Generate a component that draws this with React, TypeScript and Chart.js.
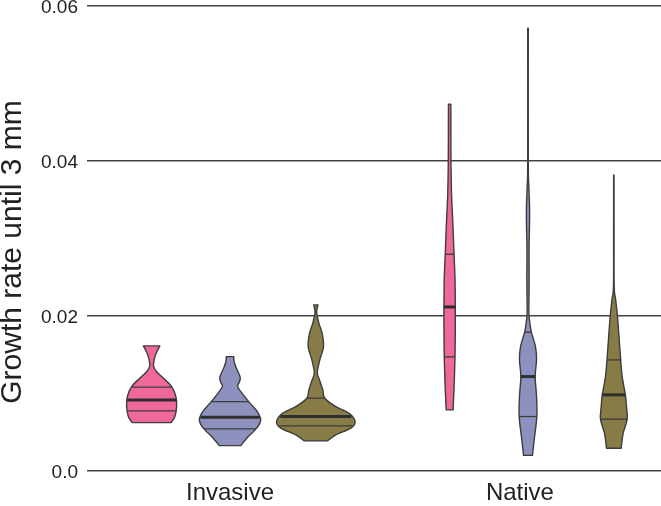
import React, { useEffect, useRef } from 'react';
import { Chart, registerables } from 'chart.js';

Chart.register(...registerables);

// ---------- data ----------
const categories = ['Invasive', 'Native'];
const yTickValues = [0, 0.02, 0.04, 0.06];
const yTickLabels = ['0.0', '0.02', '0.04', '0.06'];
const yAxisTitle = 'Growth rate until 3 mm';

// Each violin: growth-rate levels (bottom -> top), half-width of the density at each level
// (in category-width units) and its quartiles [Q1, median, Q3].
const invasivePinkLevels = [0.00623, 0.00701, 0.0083, 0.00959, 0.01088, 0.01217, 0.0128, 0.01346, 0.014, 0.01475, 0.0155, 0.01613];
const invasivePinkWidths = [0.0654, 0.0782, 0.0839, 0.0815, 0.0671, 0.0336, 0.0168, 0.0068, 0.007, 0.0112, 0.019, 0.0275];
const invasivePinkQuartiles = [0.00774, 0.00916, 0.0108];

const invasiveBlueLevels = [0.00326, 0.00443, 0.00551, 0.00658, 0.00765, 0.00874, 0.00981, 0.01088, 0.0115, 0.01217, 0.01346, 0.0142, 0.01475];
const invasiveBlueWidths = [0.0359, 0.0614, 0.0896, 0.103, 0.0916, 0.0671, 0.0446, 0.0258, 0.0319, 0.0336, 0.0191, 0.0134, 0.0124];
const invasiveBlueQuartiles = [0.00542, 0.00693, 0.00894];

const invasiveOliveLevels = [0.00387, 0.00465, 0.00551, 0.00636, 0.00745, 0.0083, 0.00938, 0.01045, 0.01174, 0.0127, 0.01432, 0.01604, 0.01777, 0.01906, 0.02035, 0.0209, 0.02142];
const invasiveOliveWidths = [0.0393, 0.0671, 0.1174, 0.1319, 0.1107, 0.0671, 0.0302, 0.0235, 0.0124, 0.005, 0.0134, 0.0258, 0.0211, 0.0101, 0.003, 0.004, 0.0072];
const invasiveOliveQuartiles = [0.00581, 0.00701, 0.00938];

const nativePinkLevels = [0.00787, 0.01071, 0.01471, 0.01845, 0.02116, 0.02486, 0.02796, 0.03217, 0.03561, 0.04, 0.04732];
const nativePinkWidths = [0.0115, 0.0148, 0.018, 0.019, 0.019, 0.018, 0.0148, 0.0105, 0.0065, 0.0045, 0.004];
const nativePinkQuartiles = [0.01471, 0.02116, 0.02796];

const nativeBlueLevels = [0.002, 0.0044, 0.007, 0.0096, 0.0122, 0.0144, 0.0161, 0.0179, 0.0191, 0.0204, 0.0246, 0.0284, 0.0333, 0.0366, 0.04, 0.05712];
const nativeBlueWidths = [0.0148, 0.022, 0.0297, 0.0287, 0.024, 0.0287, 0.0247, 0.0112, 0.0062, 0.0029, 0.0039, 0.0035, 0.0055, 0.0029, 0.001, 0.001];
const nativeBlueQuartiles = [0.00701, 0.01217, 0.0179];

const nativeOliveLevels = [0.00293, 0.00486, 0.00667, 0.0083, 0.00981, 0.01217, 0.01432, 0.01733, 0.02004, 0.0221, 0.02378, 0.03, 0.03819];
const nativeOliveWidths = [0.0247, 0.0314, 0.0448, 0.0424, 0.0388, 0.028, 0.023, 0.0173, 0.0119, 0.0062, 0.0012, 0.0008, 0.0006];
const nativeOliveQuartiles = [0.00667, 0.00981, 0.01432];

type Violin = { category: number; hue: number; levels: number[]; widths: number[]; quartiles: number[] };

const violins: Violin[] = [
  { category: 0, hue: 0, levels: invasivePinkLevels, widths: invasivePinkWidths, quartiles: invasivePinkQuartiles },
  { category: 0, hue: 1, levels: invasiveBlueLevels, widths: invasiveBlueWidths, quartiles: invasiveBlueQuartiles },
  { category: 0, hue: 2, levels: invasiveOliveLevels, widths: invasiveOliveWidths, quartiles: invasiveOliveQuartiles },
  { category: 1, hue: 0, levels: nativePinkLevels, widths: nativePinkWidths, quartiles: nativePinkQuartiles },
  { category: 1, hue: 1, levels: nativeBlueLevels, widths: nativeBlueWidths, quartiles: nativeBlueQuartiles },
  { category: 1, hue: 2, levels: nativeOliveLevels, widths: nativeOliveWidths, quartiles: nativeOliveQuartiles },
];

// ---------- styles / layout ----------
const HUE_OFFSETS = [-0.263, 0, 0.288];
const LABEL_SHIFT = [0, -0.027];
const HUE_COLORS = ['#F0679C', '#8E90BE', '#877C45'];
const OUTLINE = '#3d3d3d';
const GRID = '#424242';
const TEXT = '#222222';
const FONT = "'Liberation Sans', Arial, Helvetica, sans-serif";
const X_MIN = -0.4799;
const X_MAX = 1.4463;
const Y_MIN = -0.0035;
const Y_MAX = 0.06;

function centerOf(v: Violin) {
  return v.category + HUE_OFFSETS[v.hue];
}

function outlinePoints(v: Violin) {
  const c = centerOf(v);
  const right = v.levels.map((y, i) => ({ x: c + v.widths[i], y }));
  const left = v.levels.map((y, i) => ({ x: c - v.widths[i], y })).reverse();
  return [...right, ...left];
}

function halfWidthAt(v: Violin, q: number) {
  const L = v.levels;
  for (let i = 0; i < L.length - 1; i++) {
    if (q >= L[i] && q <= L[i + 1]) {
      const t = (q - L[i]) / (L[i + 1] - L[i]);
      return v.widths[i] + t * (v.widths[i + 1] - v.widths[i]);
    }
  }
  return q < L[0] ? v.widths[0] : v.widths[v.widths.length - 1];
}

function catmull(ctx: CanvasRenderingContext2D, pts: { x: number; y: number }[]) {
  for (let i = 0; i < pts.length - 1; i++) {
    const p0 = pts[i - 1] || pts[i];
    const p1 = pts[i];
    const p2 = pts[i + 1];
    const p3 = pts[i + 2] || p2;
    ctx.bezierCurveTo(
      p1.x + (p2.x - p0.x) / 6, p1.y + (p2.y - p0.y) / 6,
      p2.x - (p3.x - p1.x) / 6, p2.y - (p3.y - p1.y) / 6,
      p2.x, p2.y
    );
  }
}

const violinPlugin = {
  id: 'violinPlugin',
  afterDatasetsDraw(chart: any) {
    const ctx: CanvasRenderingContext2D = chart.ctx;
    const xs = chart.scales.x;
    const ys = chart.scales.y;
    violins.forEach((v, di) => {
      const meta = chart.getDatasetMeta(di);
      const pts = meta.data.map((el: any) => ({ x: el.x, y: el.y }));
      const n = v.levels.length;
      const right = pts.slice(0, n);
      const left = pts.slice(n);
      ctx.save();
      ctx.beginPath();
      ctx.moveTo(right[0].x, right[0].y);
      catmull(ctx, right);
      ctx.lineTo(left[0].x, left[0].y);
      catmull(ctx, left);
      ctx.closePath();
      ctx.fillStyle = HUE_COLORS[v.hue];
      ctx.fill();
      ctx.lineWidth = 1.4;
      ctx.strokeStyle = OUTLINE;
      ctx.lineJoin = 'round';
      ctx.stroke();
      const c = centerOf(v);
      v.quartiles.forEach((q, qi) => {
        const w = halfWidthAt(v, q);
        const y = ys.getPixelForValue(q);
        ctx.beginPath();
        ctx.moveTo(xs.getPixelForValue(c - w), y);
        ctx.lineTo(xs.getPixelForValue(c + w), y);
        ctx.lineWidth = qi === 1 ? 3 : 1.3;
        ctx.strokeStyle = qi === 1 ? '#2e2e2e' : OUTLINE;
        ctx.stroke();
      });
      ctx.restore();
    });
  },
};

export default function App() {
  const canvasRef = useRef<HTMLCanvasElement | null>(null);

  useEffect(() => {
    document.body.style.margin = '0';
    const canvas = canvasRef.current;
    if (!canvas) return;
    Chart.defaults.font.family = FONT;
    const chart = new Chart(canvas, {
      type: 'scatter',
      data: {
        datasets: violins.map((v) => ({
          data: outlinePoints(v),
          pointRadius: 0,
          pointHoverRadius: 0,
          showLine: false,
          backgroundColor: HUE_COLORS[v.hue],
          borderColor: OUTLINE,
        })),
      },
      options: {
        responsive: false,
        animation: false,
        events: [],
        layout: { padding: { top: 6, left: 0, right: 0, bottom: 0 } },
        plugins: { legend: { display: false }, tooltip: { enabled: false } },
        scales: {
          x: {
            type: 'linear',
            min: X_MIN,
            max: X_MAX,
            grid: { display: false },
            border: { display: false },
            afterBuildTicks: (s: any) => {
              s.ticks = categories.map((_, i) => ({ value: i + LABEL_SHIFT[i] }));
            },
            afterFit: (s: any) => {
              s.height = 8;
              s.paddingLeft = 0;
              s.paddingRight = 0;
            },
            ticks: {
              callback: (_val: any, i: number) => categories[i],
              font: { size: 24, lineHeight: 1 },
              color: TEXT,
              mirror: true,
              padding: -7.5,
              maxRotation: 0,
              autoSkip: false,
            },
          },
          y: {
            type: 'linear',
            min: Y_MIN,
            max: Y_MAX,
            afterBuildTicks: (s: any) => {
              s.ticks = yTickValues.map((v) => ({ value: v }));
            },
            afterFit: (s: any) => {
              s.width = 87;
              s.paddingTop = 0;
              s.paddingBottom = 0;
            },
            grid: { color: GRID, lineWidth: 1.6, drawTicks: false },
            border: { display: false },
            ticks: {
              callback: (_val: any, i: number) => yTickLabels[i],
              font: { size: 19, lineHeight: 0.6 },
              color: TEXT,
              padding: 9,
              labelOffset: 2,
            },
            title: {
              display: true,
              text: yAxisTitle,
              font: { size: 30, lineHeight: 0.85 },
              color: TEXT,
              padding: 0,
            },
          },
        },
      },
      plugins: [violinPlugin],
    } as any);
    return () => chart.destroy();
  }, []);

  return (
    <div style={{ width: 661, height: 506 }}>
      <canvas ref={canvasRef} width={661} height={506} style={{ display: 'block' }} />
    </div>
  );
}
